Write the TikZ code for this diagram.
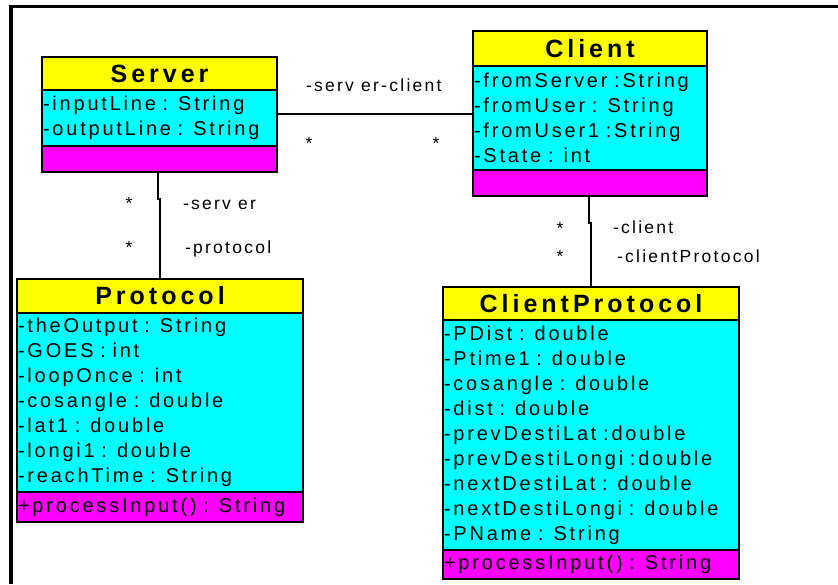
\documentclass[tikz,border=0pt]{standalone}
\usepackage{fontspec}
\usepackage{xcolor}
\usetikzlibrary{positioning}

\newfontfamily\umlfont[LetterSpace=14,WordSpace=1.6]{Liberation Sans}
\newfontfamily\umlboldfont[LetterSpace=16]{Liberation Sans}
\newfontfamily\umllabelfont[LetterSpace=13]{Liberation Sans}
\newcommand\umltitle{\umlboldfont\bfseries\fontsize{25}{28}\selectfont}
\newcommand\umlattr{\umlfont\fontsize{20}{25}\selectfont}
\newcommand\umllabel{\umllabelfont\fontsize{17.5}{20}\selectfont}

\definecolor{umlyellow}{RGB}{255,255,0}
\definecolor{umlcyan}{RGB}{0,255,255}
\definecolor{umlmagenta}{RGB}{255,0,255}

\begin{document}
\begin{tikzpicture}[
  x=1pt, y=-1pt,
  every node/.style={inner sep=0pt, outer sep=0pt},
  classname/.style={draw, line width=1.4pt, fill=umlyellow, anchor=north west, font=\umltitle},
  attrs/.style={draw, line width=1.4pt, fill=umlcyan, align=left, inner xsep=1pt, font=\umlattr},
  opers/.style={draw, line width=1.4pt, fill=umlmagenta, align=left, inner xsep=1pt, font=\umlattr},
  assoc/.style={line width=1.4pt},
  role/.style={anchor=base west, font=\umllabel},
  mult/.style={anchor=base, font=\umllabel},
]
\useasboundingbox (0,0) rectangle (838,584);

% frame
\draw[line width=3.5pt] (838,6.5) -- (11,6.5) -- (11,584);

% Server
\node[classname, minimum width=235, minimum height=33] (srvT) at (42,57) {Server};
\node[attrs, below=0pt of srvT, text width=233, minimum height=56] (srvA)
  {-inputLine : String\\-outputLine : String};
\node[opers, below=0pt of srvA, text width=233, minimum height=26] (srvO) {};

% Client
\node[classname, minimum width=234, minimum height=35] (cliT) at (473,31) {Client};
\node[attrs, below=0pt of cliT, text width=232, minimum height=104] (cliA)
  {-fromServer :String\\-fromUser : String\\-fromUser1 :String\\-State : int};
\node[opers, below=0pt of cliA, text width=232, minimum height=26] (cliO) {};

% Protocol
\node[classname, minimum width=286, minimum height=34] (proT) at (17,279) {Protocol};
\node[attrs, below=0pt of proT, text width=284, minimum height=179] (proA)
  {-theOutput : String\\-GOES : int\\-loopOnce : int\\-cosangle : double\\-lat1 : double\\-longi1 : double\\-reachTime : String};
\node[opers, below=0pt of proA, text width=284, minimum height=30] (proO) {+processInput() : String};

% ClientProtocol
\node[classname, minimum width=296, minimum height=33] (cpT) at (443,287) {ClientProtocol};
\node[attrs, below=0pt of cpT, text width=294, minimum height=230] (cpA)
  {-PDist : double\\-Ptime1 : double\\-cosangle : double\\-dist : double\\-prevDestiLat :double\\-prevDestiLongi :double\\-nextDestiLat : double\\-nextDestiLongi : double\\-PName : String};
\node[opers, below=0pt of cpA, text width=294, minimum height=29] (cpO) {+processInput() : String};

% associations
\draw[assoc] ([yshift=4pt]srvA.east) -- ([yshift=4pt]srvA.east -| cliA.west);
\draw[assoc] ([xshift=-1.5pt]srvO.south) -- ++(0,27) -| (proT.north);
\draw[assoc] ([xshift=-1pt]cliO.south) -- ++(0,27) -| (cpT.north);

% roles and multiplicities
\node[role] (rSC) at (306,91) {-serv er-client};
\node[mult] (mS1) at (309,149) {*};
\node[mult] (mC1) at (436,149) {*};
\node[role] (rSrv) at (183,209) {-serv er};
\node[role] (rPro) at (185,253) {-protocol};
\node[mult] (mS2) at (129,209) {*};
\node[mult] (mP2) at (129,253) {*};
\node[role] (rCli) at (613,233) {-client};
\node[role] (rCP) at (617,262) {-clientProtocol};
\node[mult] (mC2) at (560,234) {*};
\node[mult] (mCP2) at (560,262) {*};
\end{tikzpicture}
\end{document}
